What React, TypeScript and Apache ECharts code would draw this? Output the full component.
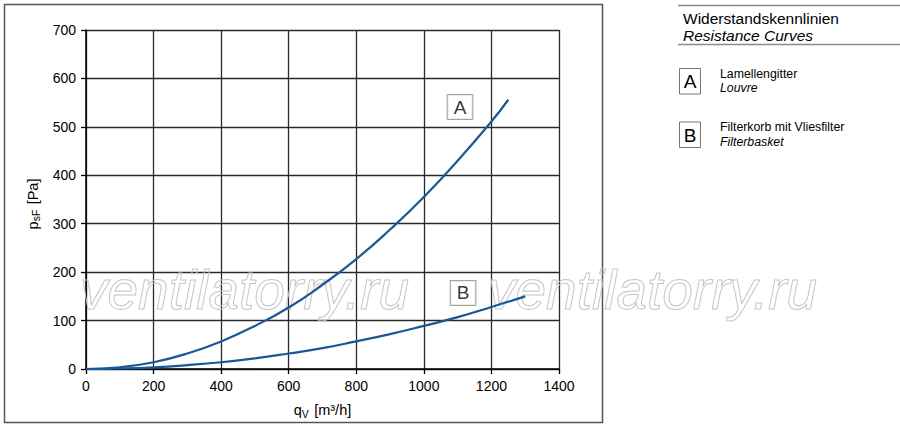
import React, { useEffect, useRef } from "react";
import * as echarts from "echarts";

const FONT = '"Liberation Sans", Arial, Helvetica, sans-serif';

// Curve A – Lamellengitter / Louvre
const qA = [0, 100, 200, 300, 400, 500, 600, 700, 800, 900, 1000, 1100, 1200, 1250];
const pA = [0, 3.5, 14, 32, 57, 89, 127, 174, 227, 288, 355, 430, 511, 556];
// Curve B – Filterkorb mit Vliesfilter / Filterbasket
const qB = [0, 100, 200, 300, 400, 500, 600, 700, 800, 900, 1000, 1100, 1200, 1300];
const pB = [0, 1, 3.5, 8, 14, 22, 32, 43, 57, 72, 89, 107, 128, 150];

// Curve label positions (data coordinates)
const curveLabels = [
  { name: "A", q: 1107, p: 541 },
  { name: "B", q: 1116, p: 157 },
];

const legendItems = [
  { key: "A", de: "Lamellengitter", en: "Louvre" },
  { key: "B", de: "Filterkorb mit Vliesfilter", en: "Filterbasket" },
];

const titleDe = "Widerstandskennlinien";
const titleEn = "Resistance Curves";
const watermark = "ventilatorry.ru";

const CURVE = "#1a5797";

export default function App() {
  const ref = useRef<HTMLDivElement>(null);
  useEffect(() => {
    if (!ref.current) return;
    const chart = echarts.init(ref.current, undefined, { renderer: "svg" });
    const graphic: any[] = [
      {
        type: "rect",
        shape: { x: 4.5, y: 4.5, width: 598, height: 418 },
        style: { fill: "none", stroke: "#555", lineWidth: 1.5 },
        z: 0,
      },
      {
        type: "line",
        shape: { x1: 678, y1: 5.5, x2: 900, y2: 5.5 },
        style: { stroke: "#8a8a8a", lineWidth: 1.5 },
      },
      {
        type: "line",
        shape: { x1: 678, y1: 44.5, x2: 900, y2: 44.5 },
        style: { stroke: "#8a8a8a", lineWidth: 1.5 },
      },
      {
        type: "text",
        x: 683,
        y: 18,
        style: { text: titleDe, font: `15.5px ${FONT}`, fill: "#000", verticalAlign: "middle" },
      },
      {
        type: "text",
        x: 683,
        y: 35,
        style: { text: titleEn, font: `italic 15.5px ${FONT}`, fill: "#000", verticalAlign: "middle" },
      },
    ];
    legendItems.forEach((it, i) => {
      const y0 = 68 + i * 53.5;
      graphic.push({
        type: "rect",
        shape: { x: 679.5, y: y0 + 0.5, width: 21, height: 25.5 },
        style: { fill: "#fff", stroke: "#777", lineWidth: 1 },
      });
      graphic.push({
        type: "text",
        x: 690,
        y: y0 + 13.5,
        style: { text: it.key, font: `19px ${FONT}`, fill: "#000", align: "center", verticalAlign: "middle" },
      });
      graphic.push({
        type: "text",
        x: 720,
        y: y0 + 5.5,
        style: { text: it.de, font: `12.3px ${FONT}`, fill: "#000", verticalAlign: "middle" },
      });
      graphic.push({
        type: "text",
        x: 720,
        y: y0 + 20,
        style: { text: it.en, font: `italic 12.3px ${FONT}`, fill: "#000", verticalAlign: "middle" },
      });
    });
    [80, 488].forEach((x) => {
      graphic.push({
        type: "text",
        x,
        y: 290,
        z: 1,
        style: {
          text: watermark,
          font: `italic 55px ${FONT}`,
          fill: "rgba(255,255,255,0)",
          stroke: "#c6c6c6",
          lineWidth: 1,
          verticalAlign: "middle",
        },
      });
    });

    const axisLabel = {
      color: "#000",
      fontSize: 14,
      fontFamily: FONT,
      formatter: (v: number) => String(v),
    };
    const split = { show: true, lineStyle: { color: "#2a2a2a", width: 1.3 } };
    const rich = {
      p: { fontSize: 14.5, fontFamily: FONT, color: "#000" },
      s: { fontSize: 10.5, fontFamily: FONT, color: "#000", padding: [7, 2, 0, 0] },
    };
    chart.setOption({
      animation: false,
      backgroundColor: "#fff",
      grid: { left: 86, right: 341, top: 30, bottom: 57 },
      xAxis: {
        type: "value",
        min: 0,
        max: 1400,
        interval: 200,
        axisLine: { show: true, onZero: false, lineStyle: { color: "#000", width: 1.5 } },
        axisTick: { show: true, length: 5, lineStyle: { color: "#000", width: 1.3 } },
        axisLabel: { ...axisLabel, margin: 10 },
        splitLine: split,
        name: "{p|q}{s|V} {p|[m³/h]}",
        nameLocation: "middle",
        nameGap: 32,
        nameTextStyle: { color: "#000", fontFamily: FONT, rich },
      },
      yAxis: {
        type: "value",
        min: 0,
        max: 700,
        interval: 100,
        axisLine: { show: true, lineStyle: { color: "#000", width: 1.5 } },
        axisTick: { show: true, length: 5, lineStyle: { color: "#000", width: 1.3 } },
        axisLabel: { ...axisLabel, margin: 10 },
        splitLine: split,
        name: "{p|p}{s|sF} {p|[Pa]}",
        nameLocation: "middle",
        nameGap: 37,
        nameRotate: 90,
        nameTextStyle: { color: "#000", fontFamily: FONT, rich, padding: [0, 9, 0, 0] },
      },
      graphic,
      series: [
        {
          type: "line",
          data: qA.map((q, i) => [q, pA[i]]),
          smooth: true,
          symbol: "none",
          lineStyle: { color: CURVE, width: 2.2 },
          z: 5,
        },
        {
          type: "line",
          data: qB.map((q, i) => [q, pB[i]]),
          smooth: true,
          symbol: "none",
          lineStyle: { color: CURVE, width: 2.2 },
          z: 5,
        },
        {
          type: "scatter",
          symbolSize: 0,
          z: 6,
          data: curveLabels.map((l) => ({ name: l.name, value: [l.q, l.p] })),
          label: {
            show: true,
            position: "inside",
            formatter: (p: any) => p.name,
            fontFamily: FONT,
            fontSize: 19,
            color: "#000",
            backgroundColor: "#fff",
            borderColor: "#8a8a8a",
            borderWidth: 1,
            padding: [2, 6, 1, 6],
            lineHeight: 21,
          },
        },
      ],
    });
    return () => chart.dispose();
  }, []);
  return (
    <div
      ref={ref}
      style={{ position: "fixed", left: 0, top: 0, width: 900, height: 426, background: "#fff" }}
    />
  );
}
